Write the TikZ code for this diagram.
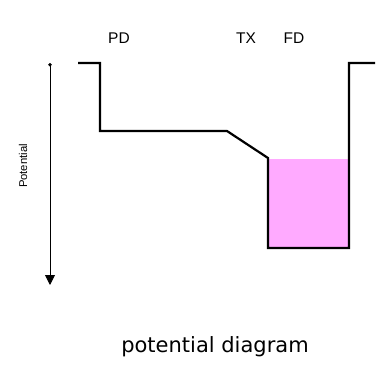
\documentclass[tikz,border=0pt]{standalone}
\usepackage{fontspec}
\setmainfont{Liberation Sans}
\newfontfamily\captionfont{DejaVu Sans}
\usetikzlibrary{arrows.meta}
\definecolor{wellpink}{RGB}{255,170,255}
\begin{document}
\begin{tikzpicture}[x=1pt,y=-1pt,
  lbl/.style={inner sep=0pt,font=\fontsize{15.5}{18}\selectfont},
  band/.style={line width=2.2pt,line join=miter}]
\useasboundingbox (0,0) rectangle (391,367);
% pink fill
\fill[wellpink] (268,159) rectangle (349,248);
% potential profile
\coordinate (p0) at (78,63);
\coordinate (p1) at (100,63);
\coordinate (p2) at (100,131);
\coordinate (p3) at (227,131);
\coordinate (p4) at (268,158);
\coordinate (p5) at (268,248);
\coordinate (p6) at (349,248);
\coordinate (p7) at (349,63);
\coordinate (p8) at (375,63);
\draw[band] (p0) -- (p1) -- (p2) -- (p3) -- (p4) -- (p5) -- (p6) -- (p7) -- (p8);
% axis arrow
\coordinate (atop) at (50,63);
\coordinate (abot) at (50,285);
\draw[line width=0.9pt,{Circle[length=3.5pt]}-{Triangle[length=10pt,width=10pt]}] (atop) -- (abot);
\node[lbl,rotate=90,font=\fontsize{11.3}{13}\selectfont] (pot) at (23,166) {Potential};
% labels
\node[lbl] (pd) at (119,38) {PD};
\node[lbl] (tx) at (246,38) {TX};
\node[lbl] (fd) at (294,38) {FD};
\node[inner sep=0pt,font=\captionfont\fontsize{21}{24}\selectfont] (cap) at (215,347) {potential diagram};
\end{tikzpicture}
\end{document}
